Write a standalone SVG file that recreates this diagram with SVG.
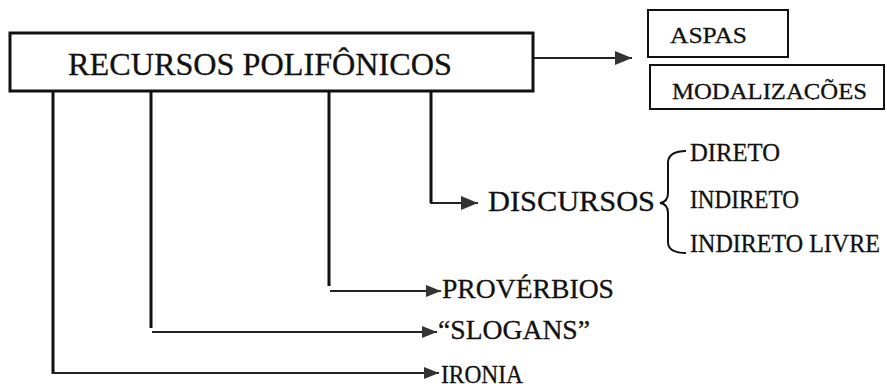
<svg xmlns="http://www.w3.org/2000/svg" width="887" height="388" viewBox="0 0 887 388">
<defs>
<style>
.t{font-family:"Liberation Serif","Times New Roman",serif;fill:#111;stroke:#111;stroke-width:0.3}
.box{fill:#fff;stroke:#111}
.ln{fill:none;stroke:#111;stroke-width:3}
.ln2{fill:none;stroke:#222;stroke-width:2.2}
</style>
<marker id="ah" markerUnits="userSpaceOnUse" markerWidth="18" markerHeight="14" refX="17" refY="7" orient="auto">
<path d="M0,0 L17,7 L0,14 Z" fill="#333"/>
</marker>
<marker id="ahs" markerUnits="userSpaceOnUse" markerWidth="16" markerHeight="12" refX="15" refY="6" orient="auto">
<path d="M0,0 L15,6 L0,12 Z" fill="#333"/>
</marker>
<clipPath id="clipMod"><rect x="650" y="65" width="237" height="35"/></clipPath>
</defs>
<g id="connectors">
<line class="ln2" x1="533" y1="58" x2="632" y2="58" marker-end="url(#ah)"/>
<path class="ln" d="M431,91 V203"/>
<line class="ln2" x1="430" y1="203" x2="478" y2="203" marker-end="url(#ah)"/>
<path class="ln" d="M329,91 V286"/>
<line class="ln2" x1="330" y1="291" x2="441" y2="291" marker-end="url(#ahs)"/>
<path class="ln" d="M151,91 V328"/>
<line class="ln2" x1="152" y1="332" x2="437" y2="332" marker-end="url(#ahs)"/>
<path class="ln" d="M53,91 V374"/>
<line class="ln2" x1="52" y1="373" x2="439" y2="373" marker-end="url(#ahs)"/>
<path d="M686,151 Q669,151 668,162 V193 Q668,202 660,203 Q668,204 668,213 V243 Q669,253 686,253" fill="none" stroke="#111" stroke-width="2"/>
</g>
<g id="recursos">
<rect class="box" x="10" y="33" width="523" height="58" stroke-width="3"/>
<text class="t" x="68" y="75" font-size="32" textLength="384" lengthAdjust="spacingAndGlyphs">RECURSOS POLIFÔNICOS</text>
</g>
<g id="aspas">
<rect class="box" x="648" y="10" width="140" height="47" stroke-width="2"/>
<text class="t" x="670" y="43" font-size="24" textLength="77" lengthAdjust="spacingAndGlyphs">ASPAS</text>
</g>
<g id="modalizacoes">
<rect class="box" x="650" y="65" width="234" height="44" stroke-width="2"/>
<text class="t" x="672" y="99" font-size="24" textLength="195" lengthAdjust="spacingAndGlyphs" clip-path="url(#clipMod)">MODALIZAÇÕES</text>
</g>
<g id="discursos">
<text class="t" x="488" y="211" font-size="30" textLength="167" lengthAdjust="spacingAndGlyphs">DISCURSOS</text>
</g>
<g id="direto">
<text class="t" x="690" y="161" font-size="25" textLength="90" lengthAdjust="spacingAndGlyphs">DIRETO</text>
</g>
<g id="indireto">
<text class="t" x="690" y="208" font-size="25" textLength="109" lengthAdjust="spacingAndGlyphs">INDIRETO</text>
</g>
<g id="indireto-livre">
<text class="t" x="690" y="252" font-size="25" textLength="190" lengthAdjust="spacingAndGlyphs">INDIRETO LIVRE</text>
</g>
<g id="proverbios">
<text class="t" x="442" y="298" font-size="27" textLength="172" lengthAdjust="spacingAndGlyphs">PROVÉRBIOS</text>
</g>
<g id="slogans">
<text class="t" x="438" y="339" font-size="27" textLength="152" lengthAdjust="spacingAndGlyphs">“SLOGANS”</text>
</g>
<g id="ironia">
<text class="t" x="441" y="383" font-size="26" textLength="82" lengthAdjust="spacingAndGlyphs">IRONIA</text>
</g>
</svg>
